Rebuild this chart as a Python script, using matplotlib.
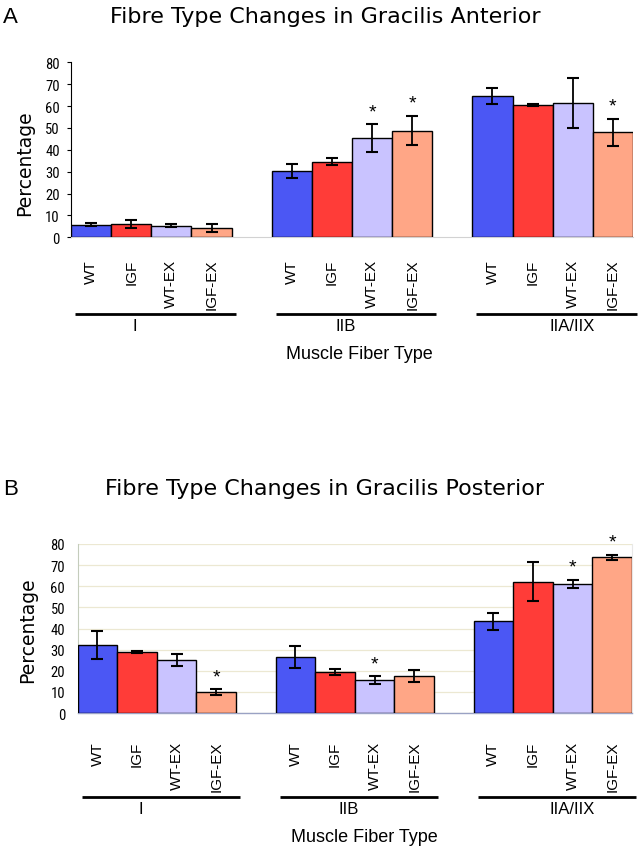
import matplotlib
matplotlib.use("Agg")
import matplotlib.pyplot as plt
from matplotlib import font_manager
from matplotlib.transforms import blended_transform_factory
import numpy as np

# ---------------- data ----------------
fiber_types = ["I", "IIB", "IIA/IIX"]
groups = ["WT", "IGF", "WT-EX", "IGF-EX"]

ant_values = [[5.8, 6.1, 5.3, 4.3],
              [30.3, 34.6, 45.4, 48.8],
              [64.6, 60.5, 61.4, 48.0]]
ant_errors = [[0.7, 1.7, 0.6, 1.8],
              [3.0, 1.75, 6.3, 6.7],
              [3.7, 0.5, 11.3, 6.3]]
ant_sig = [[0, 0, 0, 0],
           [0, 0, 1, 1],
           [0, 0, 0, 1]]

post_values = [[32.2, 28.9, 25.1, 9.9],
               [26.5, 19.3, 15.6, 17.5],
               [43.4, 62.2, 61.2, 73.7]]
post_errors = [[6.8, 0.4, 2.8, 1.3],
               [5.0, 1.35, 1.9, 2.75],
               [4.1, 9.3, 1.85, 1.2]]
post_sig = [[0, 0, 0, 1],
            [0, 0, 1, 0],
            [0, 0, 1, 1]]

yticks = [0, 10, 20, 30, 40, 50, 60, 70, 80]
colors = ["#4b57f4", "#ff3c38", "#c9c3ff", "#ffa686"]

# ---------------- fonts ----------------
fonts = font_manager.fontManager.ttflist
avail = {f.name for f in fonts}
def pick(*names):
    for n in names:
        if n in avail:
            return n
    return "DejaVu Sans"
SANS = pick("Liberation Sans", "Arial", "DejaVu Sans")
TITLE = "DejaVu Sans"
narrow_props = None
for cand in ["Liberation Sans Narrow", "Roboto Condensed", "Open Sans Condensed",
             "Noto Sans Condensed"]:
    if cand in avail:
        narrow_props = dict(family=cand)
        break
if narrow_props is None:
    cond = [f for f in fonts if f.name == "DejaVu Sans" and
            str(f.stretch) in ("condensed", "semi-condensed", "600", "500")
            and f.weight in (400, "normal", "regular")]
    if cond:
        narrow_props = dict(fname=cond[0].fname)
NARROW_FP = (font_manager.FontProperties(**narrow_props, size=10.5)
             if narrow_props else font_manager.FontProperties(family=SANS, size=10))

W, H = 642, 853
fig = plt.figure(figsize=(W / 100, H / 100), dpi=100)

def fy(py):
    return 1 - py / H

def fx(px):
    return px / W

def panel(rect_px, values, errors, sig, title, letter, title_y, letter_y,
          ylab_xy, tick_pad, line_y, glabel_y, xlabel_xy, grid):
    l, t, r, b = rect_px
    ax = fig.add_axes([fx(l), fy(b), fx(r - l), (b - t) / H])
    pos = []
    labels = []
    for g in range(len(fiber_types)):
        for i in range(len(groups)):
            x = g * 5 + i + 0.5
            pos.append(x)
            labels.append(groups[i])
            ax.bar(x, values[g][i], width=1.0, color=colors[i],
                   edgecolor="black", linewidth=1.0, zorder=3)
            ax.errorbar(x, values[g][i], yerr=errors[g][i], fmt="none",
                        ecolor="black", elinewidth=1.3, capsize=4.5,
                        capthick=1.5, zorder=4)
            if sig[g][i]:
                ax.annotate("*", (x, values[g][i] + errors[g][i]),
                            xytext=(0, 9), textcoords="offset points",
                            ha="center", va="center", fontsize=14,
                            family=SANS, zorder=5)
    ax.set_xlim(0, 14)
    ax.set_ylim(0, 80)
    ax.set_yticks(yticks)
    ax.set_yticklabels([str(v) for v in yticks], fontproperties=NARROW_FP)
    ax.set_xticks(pos)
    ax.set_xticklabels(labels, rotation=90, family=SANS, fontsize=11,
                       va="top", ha="center")
    ax.tick_params(axis="x", length=0, pad=tick_pad)
    for s in ["top", "right"]:
        ax.spines[s].set_visible(False)
    if grid:
        ax.yaxis.grid(True, color="#ece8d2", linewidth=0.9, zorder=0)
        ax.spines["left"].set_color("#c4ccbc")
        ax.spines["left"].set_linewidth(0.8)
        ax.spines["bottom"].set_color("#9aa2c4")
        ax.spines["bottom"].set_linewidth(1.0)
        ax.spines["right"].set_visible(True)
        ax.spines["right"].set_color("#e8e8e8")
        ax.tick_params(axis="y", length=0, pad=9)
    else:
        ax.spines["left"].set_color("black")
        ax.spines["left"].set_linewidth(0.8)
        ax.spines["bottom"].set_color("#d2d2d2")
        ax.spines["bottom"].set_linestyle((0, (2, 1)))
        ax.tick_params(axis="y", length=3, width=0.8, pad=5)
    ax.set_facecolor("none")

    # group lines and labels
    tr = blended_transform_factory(ax.transData, fig.transFigure)
    offs = [-16, -6, 19]
    for g, name in enumerate(fiber_types):
        x0 = g * 5 + 0.1
        x1 = g * 5 + 4.1
        ax.plot([x0, x1], [fy(line_y), fy(line_y)], color="black", lw=2.0,
                transform=tr, clip_on=False, solid_capstyle="butt")
        cx = g * 5 + 2 + offs[g] / ((r - l) / 14)
        ax.text(cx, fy(glabel_y), name, transform=tr, ha="center",
                va="center", fontsize=12, family=SANS)
    fig.text(fx(xlabel_xy[0]), fy(xlabel_xy[1]), "Muscle Fiber Type",
             ha="center", va="center", fontsize=13, family=SANS)
    fig.text(fx(ylab_xy[0]), fy(ylab_xy[1]), "Percentage", rotation=90,
             ha="center", va="center", fontsize=13.5, family=TITLE)
    fig.text(fx(325), fy(title_y), title, ha="center", va="baseline",
             fontsize=16, family=TITLE)
    fig.text(fx(3), fy(letter_y), letter, ha="left", va="baseline",
             fontsize=16, family=SANS)
    return ax

panel((71, 63.3, 633, 238.3), ant_values, ant_errors, ant_sig,
      "Fibre Type Changes in Gracilis Anterior", "A", 23, 23,
      (25, 163), 15.5, 315, 327, (359, 355), grid=False)
panel((77.7, 545, 632, 714), post_values, post_errors, post_sig,
      "Fibre Type Changes in Gracilis Posterior", "B", 495, 495,
      (28, 630), 20, 797.5, 810, (364, 838), grid=True)

fig.savefig("out.png", dpi=100)
